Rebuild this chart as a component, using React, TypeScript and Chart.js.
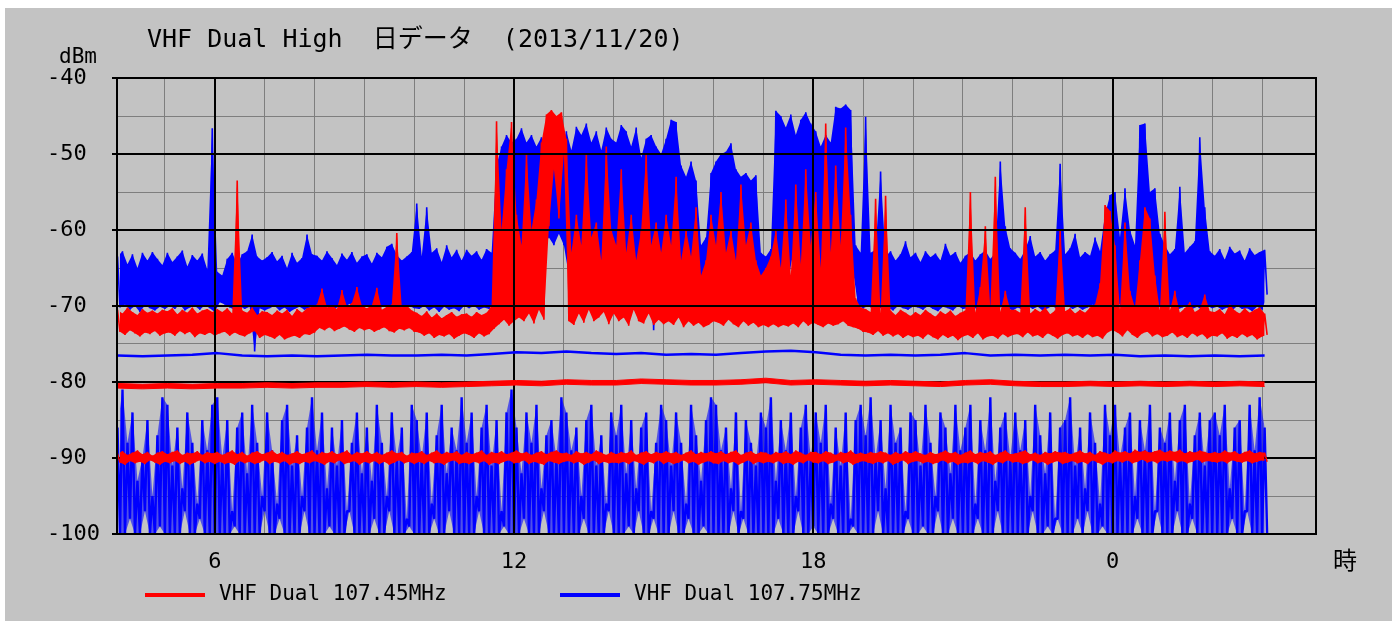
import React, { useEffect, useRef } from "react";
import { Chart, registerables } from "chart.js";

Chart.register(...registerables);

// ---- texts ----
const TITLE = "VHF Dual High  日データ  (2013/11/20)";
const Y_UNIT = "dBm";
const X_UNIT = "時";
const SERIES_LABELS = ["VHF Dual 107.45MHz", "VHF Dual 107.75MHz"];

// ---- axes ----
const X_MIN = 4.04;
const X_MAX = 28.08;
const Y_MIN = -100;
const Y_MAX = -40;
const Y_STEP = 5;
const HOUR_GRID = [5, 6, 7, 8, 9, 10, 11, 12, 13, 14, 15, 16, 17, 18, 19, 20, 21, 22, 23, 24, 25, 26, 27];
const HOUR_LABELS = [6, 12, 18, 24];
const DB_MAJOR = [-40, -50, -60, -70, -80, -90, -100];

// ---- sampling (hours) ----
const START_HOUR = 4.05;
const BIN_HOURS = 0.1;
const LINE_STEP_HOURS = 0.5;

// ---- 107.45MHz main trace: per 6-minute bin max / min (dBm) ----
const red10745Hi = [
  -70.5, -71.0, -70.2, -70.8, -71.2, -70.4, -70.9, -70.6, -71.0, -70.5,
  -70.7, -70.3, -71.1, -70.5, -70.9, -70.2, -71.0, -70.6, -70.4, -70.8,
  -70.4, -70.8, -70.3, -71.0, -53.5, -70.6, -70.9, -70.2, -71.2, -70.7,
  -70.8, -71.2, -70.6, -71.0, -70.5, -71.3, -70.4, -70.9, -70.3, -70.1,
  -69.8, -67.7, -70.2, -69.9, -70.4, -67.9, -70.1, -69.6, -67.5, -70.0,
  -70.3, -69.9, -67.6, -70.5, -70.1, -69.8, -60.4, -70.2, -69.9, -70.6,
  -70.9, -71.3, -70.7, -71.5, -71.0, -71.6, -71.2, -70.8, -71.4, -71.1,
  -71.0, -71.4, -70.8, -71.2, -70.9, -70.0, -45.7, -60.0, -52.0, -45.8,
  -58.0, -62.0, -50.0, -60.0, -56.0, -48.5, -44.8, -44.2, -45.0, -44.5,
  -48.0, -63.0, -58.0, -62.0, -50.0, -61.0, -59.0, -64.0, -49.0, -60.0,
  -62.0, -52.0, -63.0, -58.0, -64.0, -60.0, -50.0, -62.0, -59.0, -63.0,
  -58.0, -62.0, -53.0, -64.0, -60.0, -63.5, -57.0, -66.0, -64.0, -58.0,
  -62.0, -55.0, -63.0, -60.0, -64.0, -54.0, -62.0, -59.0, -64.0, -66.0,
  -65.0, -63.5, -60.0, -65.0, -56.0, -66.0, -54.0, -64.5, -52.0, -62.0,
  -55.0, -65.0, -46.0, -63.0, -51.5, -62.0, -46.5, -58.0, -69.0, -70.2,
  -70.4, -70.8, -55.9, -71.0, -55.5, -70.6, -71.2, -70.5, -70.9, -71.3,
  -70.8, -71.2, -70.5, -71.0, -71.4, -70.7, -71.1, -70.6, -71.3, -70.9,
  -70.6, -55.0, -70.9, -67.5, -59.5, -70.3, -53.0, -70.8, -68.0, -70.5,
  -70.5, -70.9, -57.0, -71.0, -70.4, -70.8, -70.2, -71.1, -70.6, -60.0,
  -70.7, -70.3, -71.0, -70.5, -70.9, -70.2, -69.8, -67.0, -56.7, -57.5,
  -62.0, -70.5, -59.0, -68.0, -70.2, -64.0, -57.0, -58.5, -66.0, -70.6,
  -57.6, -70.6, -68.0, -70.9, -70.3, -69.5, -70.8, -70.4, -68.5, -70.7,
  -70.8, -70.4, -71.1, -69.8, -70.6, -71.0, -70.3, -70.9, -70.5, -70.2,
  -71.0,
];
const red10745Lo = [
  -73.4, -73.8, -73.2, -73.6, -74.0, -73.5, -73.7, -73.3, -73.9, -73.6,
  -73.5, -73.9, -73.3, -73.7, -73.4, -74.1, -73.6, -73.8, -73.5, -73.9,
  -73.6, -73.4, -73.9, -73.5, -73.8, -74.0, -73.6, -73.3, -74.2, -73.8,
  -74.0, -74.3, -73.8, -74.4, -74.1, -73.9, -74.2, -73.7, -73.8, -73.5,
  -72.9, -73.2, -72.8, -73.3, -73.0, -72.7, -73.1, -73.4, -72.9, -73.2,
  -73.0, -73.4, -73.1, -72.8, -73.3, -73.5, -73.0, -73.2, -72.9, -73.4,
  -73.5, -73.9, -73.6, -74.2, -73.8, -74.0, -73.7, -74.3, -73.9, -73.6,
  -73.8, -74.2, -73.6, -74.0, -73.7, -73.0, -72.4, -71.8, -72.6, -72.0,
  -71.5, -72.0, -71.0, -72.3, -70.5, -71.8, -59.5, -52.0, -58.5, -50.0,
  -72.0, -72.5, -71.0, -72.2, -70.5, -72.0, -71.5, -70.8, -72.4, -71.0,
  -72.0, -71.5, -72.6, -70.5, -72.0, -72.3, -71.0, -72.5, -71.8, -72.4,
  -72.0, -72.5, -71.5, -72.8, -72.0, -72.6, -72.2, -72.8, -72.5, -72.0,
  -72.2, -72.6, -71.8, -72.4, -72.8, -72.0, -72.6, -72.2, -72.8, -72.5,
  -72.8, -72.4, -72.8, -72.5, -72.7, -72.3, -72.8, -72.0, -72.6, -72.2,
  -72.5, -72.8, -72.3, -72.6, -72.4, -72.0, -72.6, -72.8, -73.0, -73.4,
  -73.5, -73.8, -73.3, -73.9, -73.6, -74.0, -73.7, -74.2, -73.8, -74.1,
  -73.9, -74.3, -73.7, -74.1, -74.4, -73.8, -74.2, -73.9, -74.5, -74.0,
  -73.8, -74.2, -73.6, -74.4, -74.0, -73.9, -74.3, -73.7, -74.1, -73.8,
  -73.7, -74.1, -73.5, -74.0, -73.8, -74.2, -73.6, -73.9, -74.3, -73.8,
  -73.6, -74.0, -73.8, -74.2, -73.7, -74.1, -73.9, -74.3, -73.5, -73.2,
  -73.5, -74.0, -73.2, -73.8, -74.2, -73.6, -73.4, -74.0, -73.7, -74.1,
  -73.9, -73.5, -74.1, -73.8, -74.2, -73.6, -74.0, -73.7, -74.3, -73.9,
  -74.0, -73.6, -74.3, -73.9, -74.2, -73.7, -74.1, -73.8, -74.4, -74.0,
  -73.8,
];

// ---- 107.75MHz main trace: per 6-minute bin max / min (dBm) ----
const blue10775Hi = [
  -63.5, -62.8, -64.5, -63.2, -65.0, -63.0, -64.0, -62.9, -63.8, -64.6,
  -63.0, -64.2, -63.5, -62.7, -64.8, -63.3, -64.0, -63.1, -65.2, -46.6,
  -65.5, -66.0, -63.8, -63.0, -64.5, -63.2, -62.8, -60.6, -63.5, -64.0,
  -63.6, -62.9, -64.1, -63.4, -65.0, -63.0, -64.3, -63.7, -60.6, -63.2,
  -63.4, -64.0, -62.8, -63.7, -64.6, -63.1, -63.9, -62.9, -64.3, -63.5,
  -63.2, -64.4, -63.0, -63.6, -62.2, -61.8, -63.3, -64.0, -63.5, -62.9,
  -56.5, -63.5, -57.0, -63.0, -62.4, -64.2, -62.0, -63.6, -62.6, -64.0,
  -62.6, -63.4, -62.8, -63.9, -62.5, -63.0, -51.5, -49.0, -47.5, -48.5,
  -48.0, -46.6, -48.5, -47.5, -49.0, -47.8, -50.0, -49.5, -51.0, -50.0,
  -47.0, -49.5, -46.4, -47.5, -46.0, -48.5, -47.0, -49.5, -46.5, -48.0,
  -48.5, -46.2, -47.0, -49.0, -46.5, -50.5, -48.0, -47.5, -49.0, -50.0,
  -48.0, -45.5, -45.8, -51.5, -53.0, -51.0, -53.5, -62.0, -61.0, -52.5,
  -51.0, -50.0, -49.7, -48.6, -52.0, -53.0, -52.5, -53.5, -52.8, -63.0,
  -63.5, -62.5, -44.3, -45.0, -46.5, -44.8, -47.5, -45.5, -44.5, -46.0,
  -47.0, -49.0, -47.5, -48.5, -43.8, -44.0, -43.5, -44.2, -62.0, -63.0,
  -45.1, -63.0, -62.6, -52.3, -63.5, -62.8, -64.0, -63.2, -61.5, -63.6,
  -63.0, -64.2, -62.8, -63.6, -63.1, -64.0, -61.8, -63.4, -62.9, -64.3,
  -63.4, -62.9, -64.0, -63.2, -62.7, -63.8, -63.0, -51.0, -59.5, -62.4,
  -63.0, -63.8, -62.6, -60.8, -63.5, -62.9, -64.0, -63.2, -62.7, -51.3,
  -63.2, -62.4, -60.5, -63.6, -62.9, -63.4, -61.0, -62.8, -58.0, -55.4,
  -55.0, -61.0, -54.5, -60.0, -62.0, -46.2, -46.0, -55.0, -54.5, -60.5,
  -62.0, -63.2, -62.5, -54.3, -63.0, -62.2, -61.5, -47.8, -57.0, -62.8,
  -63.4, -62.5, -63.9, -62.2, -63.1, -62.7, -64.0, -62.4, -63.3, -62.9,
  -62.6,
];
const blue10775Lo = [
  -70.2, -69.8, -70.5, -70.0, -70.8, -69.9, -70.3, -70.6, -70.1, -70.4,
  -70.0, -70.4, -69.8, -70.6, -70.2, -70.0, -70.5, -69.9, -70.3, -70.8,
  -69.5, -69.8, -70.2, -70.5, -70.0, -70.4, -70.1, -76.0, -70.3, -70.6,
  -70.3, -70.0, -70.6, -70.2, -70.8, -70.4, -70.1, -70.5, -70.2, -70.0,
  -69.8, -70.2, -69.9, -70.4, -70.0, -70.3, -69.7, -70.1, -70.5, -70.0,
  -70.1, -69.8, -70.3, -70.0, -70.5, -70.2, -69.9, -70.4, -70.0, -70.3,
  -70.4, -70.0, -70.6, -70.2, -70.8, -70.1, -70.5, -70.3, -70.7, -70.0,
  -70.3, -70.0, -70.5, -70.2, -70.4, -69.5, -69.8, -68.0, -66.0, -67.0,
  -66.0, -64.0, -67.0, -63.0, -66.5, -62.0, -61.0, -62.0, -60.5, -62.0,
  -66.0, -69.0, -67.0, -65.5, -68.0, -64.0, -69.5, -66.0, -68.5, -67.0,
  -67.0, -68.0, -65.5, -69.0, -66.0, -68.5, -67.5, -73.2, -66.0, -68.0,
  -67.0, -68.5, -66.0, -69.0, -68.0, -67.5, -69.5, -70.0, -69.5, -68.0,
  -67.0, -68.5, -66.5, -68.0, -69.0, -67.5, -68.5, -67.0, -68.0, -70.0,
  -70.2, -69.8, -66.0, -64.0, -66.5, -63.0, -65.5, -64.0, -66.0, -65.0,
  -66.0, -64.5, -65.0, -66.5, -65.0, -64.0, -66.0, -65.5, -70.0, -70.3,
  -70.0, -70.4, -70.1, -70.5, -70.2, -70.6, -70.0, -70.3, -70.5, -70.1,
  -70.2, -70.5, -70.0, -70.4, -70.7, -70.1, -70.3, -70.6, -70.0, -70.4,
  -70.3, -70.0, -70.6, -70.2, -70.5, -70.1, -70.4, -70.0, -70.3, -70.6,
  -70.2, -70.5, -70.0, -70.4, -70.1, -70.6, -70.3, -70.0, -70.5, -70.2,
  -70.0, -70.4, -70.1, -70.5, -70.2, -69.8, -70.3, -70.0, -69.5, -68.0,
  -69.5, -70.2, -69.0, -70.4, -70.0, -68.5, -69.0, -70.3, -69.8, -70.5,
  -70.3, -70.0, -70.5, -70.2, -69.9, -70.4, -70.1, -70.6, -70.0, -70.3,
  -70.1, -70.5, -70.2, -70.6, -70.0, -70.4, -70.3, -70.7, -70.1, -70.5,
  -68.5,
];

// ---- 107.75MHz low trace (noise floor): per bin max / min ----
const blueFloorHi = [
  -86, -81, -88, -84, -93, -90, -85, -95, -87, -82,
  -83, -91, -86, -94, -84, -88, -96, -85, -89, -83,
  -82, -90, -85, -97, -86, -84, -92, -83, -88, -95,
  -84, -89, -96, -85, -83, -91, -87, -95, -86, -82,
  -89, -84, -94, -86, -91, -85, -97, -88, -84, -92,
  -86, -93, -83, -88, -95, -84, -90, -86, -98, -83,
  -85, -90, -84, -96, -87, -83, -92, -86, -89, -82,
  -88, -84, -95, -86, -83, -91, -85, -97, -84, -81,
  -86, -92, -84, -88, -83, -94, -87, -85, -90, -82,
  -84, -89, -86, -95, -85, -83, -91, -87, -96, -84,
  -87, -83, -92, -85, -94, -86, -84, -97, -88, -83,
  -85, -91, -84, -88, -96, -83, -87, -93, -85, -82,
  -83, -89, -86, -94, -84, -97, -85, -88, -91, -84,
  -86, -82, -93, -85, -89, -84, -95, -86, -83, -90,
  -84, -88, -83, -96, -86, -91, -84, -98, -85, -83,
  -87, -82, -90, -85, -94, -83, -88, -86, -97, -84,
  -85, -91, -83, -88, -95, -84, -86, -92, -83, -89,
  -86, -83, -96, -85, -89, -82, -93, -86, -84, -90,
  -84, -89, -85, -95, -83, -87, -92, -84, -98, -86,
  -85, -82, -91, -86, -94, -84, -88, -96, -83, -87,
  -83, -90, -86, -84, -95, -85, -89, -83, -97, -86,
  -88, -84, -93, -85, -83, -96, -87, -84, -91, -85,
  -84, -87, -83, -94, -86, -85, -97, -83, -89, -82,
  -86,
];
const blueFloorLo = [
  -100, -100, -98, -100, -100, -97, -100, -100, -99, -100,
  -100, -100, -100, -97, -100, -100, -98, -100, -100, -100,
  -100, -100, -100, -99, -100, -100, -100, -100, -100, -97,
  -100, -100, -98, -100, -100, -100, -100, -97, -100, -100,
  -100, -100, -99, -100, -100, -100, -97, -100, -100, -100,
  -100, -98, -100, -100, -97, -100, -100, -100, -99, -100,
  -100, -100, -100, -98, -100, -100, -97, -100, -100, -100,
  -100, -100, -97, -100, -100, -100, -100, -99, -100, -100,
  -100, -98, -100, -100, -100, -97, -100, -100, -100, -100,
  -100, -100, -100, -98, -100, -100, -100, -100, -97, -100,
  -100, -100, -99, -100, -97, -100, -100, -98, -100, -100,
  -100, -97, -100, -100, -98, -100, -100, -99, -100, -100,
  -100, -100, -100, -97, -100, -98, -100, -100, -100, -100,
  -100, -100, -98, -100, -100, -100, -97, -100, -100, -99,
  -100, -100, -100, -98, -100, -100, -100, -99, -100, -100,
  -100, -100, -97, -100, -100, -100, -100, -100, -98, -100,
  -100, -99, -100, -100, -97, -100, -100, -98, -100, -100,
  -100, -100, -98, -100, -100, -100, -97, -100, -100, -100,
  -100, -100, -100, -97, -100, -100, -99, -100, -98, -100,
  -100, -100, -98, -100, -97, -100, -100, -99, -100, -100,
  -100, -100, -100, -100, -98, -100, -100, -100, -97, -100,
  -100, -100, -97, -100, -100, -98, -100, -100, -100, -100,
  -100, -100, -100, -98, -100, -100, -97, -100, -100, -100,
  -100,
];

// ---- 107.45MHz low trace (~-90 dBm): per bin max / min ----
const red90Hi = [
  -89.4, -89.1, -89.6, -89.3, -89.0, -89.5, -89.2, -89.7, -89.3, -89.1,
  -89.5, -89.2, -89.0, -89.6, -89.3, -89.4, -89.1, -89.6, -89.2, -89.4,
  -89.2, -89.6, -89.3, -89.0, -89.5, -89.2, -89.7, -89.3, -89.1, -89.5,
  -89.3, -89.0, -89.5, -89.2, -89.6, -89.4, -89.1, -89.5, -89.3, -89.0,
  -89.6, -89.2, -89.4, -89.1, -89.5, -89.3, -89.0, -89.6, -89.2, -89.4,
  -89.1, -89.5, -89.2, -89.6, -89.3, -89.0, -89.4, -89.2, -89.7, -89.3,
  -89.4, -89.1, -89.6, -89.3, -89.0, -89.5, -89.2, -89.4, -89.1, -89.6,
  -89.2, -89.5, -89.3, -89.0, -89.6, -89.2, -89.4, -89.1, -89.5, -89.3,
  -89.0, -89.4, -89.2, -89.6, -89.3, -89.1, -89.5, -89.2, -89.0, -89.4,
  -89.3, -89.6, -89.1, -89.4, -89.2, -89.5, -89.0, -89.3, -89.6, -89.2,
  -89.5, -89.2, -89.4, -89.0, -89.6, -89.3, -89.1, -89.5, -89.2, -89.4,
  -89.1, -89.4, -89.2, -89.6, -89.3, -89.0, -89.5, -89.2, -89.4, -89.1,
  -89.4, -89.1, -89.5, -89.2, -89.0, -89.6, -89.3, -89.1, -89.5, -89.2,
  -89.3, -89.6, -89.2, -89.4, -89.1, -89.5, -89.0, -89.3, -89.6, -89.2,
  -89.2, -89.5, -89.1, -89.3, -89.6, -89.2, -89.4, -89.0, -89.5, -89.3,
  -89.5, -89.2, -89.4, -89.1, -89.3, -89.6, -89.2, -89.5, -89.1, -89.4,
  -89.1, -89.4, -89.6, -89.2, -89.5, -89.3, -89.0, -89.4, -89.2, -89.6,
  -89.3, -89.0, -89.5, -89.2, -89.4, -89.1, -89.6, -89.3, -89.0, -89.5,
  -89.4, -89.2, -89.0, -89.5, -89.3, -89.6, -89.2, -89.4, -89.1, -89.3,
  -89.2, -89.5, -89.3, -89.0, -89.4, -89.2, -89.6, -89.1, -89.3, -89.5,
  -89.0, -89.3, -89.1, -89.4, -88.9, -89.2, -89.0, -89.3, -89.1, -88.9,
  -89.3, -89.0, -89.2, -88.9, -89.4, -89.1, -89.3, -89.0, -89.2, -89.4,
  -89.2, -89.4, -89.0, -89.3, -89.1, -89.5, -89.2, -89.0, -89.4, -89.2,
  -89.3,
];
const red90Lo = [
  -90.6, -90.9, -90.4, -90.7, -90.5, -90.8, -90.3, -90.6, -90.9, -90.5,
  -90.7, -90.4, -90.8, -90.5, -90.9, -90.6, -90.3, -90.7, -90.5, -90.8,
  -90.5, -90.8, -90.6, -90.9, -90.4, -90.7, -90.5, -90.8, -90.6, -90.3,
  -90.8, -90.5, -90.7, -90.4, -90.9, -90.6, -90.8, -90.5, -90.7, -90.4,
  -90.6, -90.9, -90.5, -90.7, -90.3, -90.8, -90.6, -90.4, -90.9, -90.5,
  -90.7, -90.4, -90.8, -90.5, -90.9, -90.6, -90.3, -90.7, -90.5, -90.8,
  -90.5, -90.8, -90.4, -90.7, -90.6, -90.9, -90.5, -90.3, -90.8, -90.6,
  -90.8, -90.5, -90.7, -90.4, -90.9, -90.6, -90.8, -90.5, -90.3, -90.7,
  -90.6, -90.3, -90.8, -90.5, -90.7, -90.9, -90.4, -90.6, -90.8, -90.5,
  -90.4, -90.7, -90.5, -90.9, -90.6, -90.3, -90.8, -90.5, -90.7, -90.6,
  -90.7, -90.5, -90.8, -90.4, -90.6, -90.9, -90.5, -90.7, -90.3, -90.8,
  -90.5, -90.8, -90.6, -90.3, -90.7, -90.5, -90.9, -90.6, -90.4, -90.7,
  -90.8, -90.4, -90.7, -90.5, -90.9, -90.6, -90.3, -90.8, -90.5, -90.7,
  -90.5, -90.7, -90.4, -90.8, -90.6, -90.9, -90.5, -90.7, -90.3, -90.6,
  -90.7, -90.4, -90.8, -90.6, -90.3, -90.7, -90.5, -90.9, -90.6, -90.4,
  -90.6, -90.8, -90.5, -90.7, -90.4, -90.9, -90.6, -90.3, -90.8, -90.5,
  -90.4, -90.7, -90.5, -90.8, -90.6, -90.3, -90.7, -90.5, -90.9, -90.6,
  -90.7, -90.5, -90.8, -90.4, -90.6, -90.9, -90.5, -90.7, -90.3, -90.6,
  -90.5, -90.8, -90.6, -90.3, -90.7, -90.5, -90.9, -90.6, -90.4, -90.8,
  -90.6, -90.4, -90.7, -90.5, -90.8, -90.3, -90.6, -90.9, -90.5, -90.7,
  -90.4, -90.6, -90.3, -90.7, -90.5, -90.2, -90.6, -90.4, -90.7, -90.3,
  -90.5, -90.3, -90.6, -90.4, -90.7, -90.5, -90.2, -90.6, -90.4, -90.5,
  -90.6, -90.4, -90.7, -90.3, -90.5, -90.6, -90.4, -90.7, -90.5, -90.3,
  -90.5,
];

// ---- steady traces: one value per 30 minutes ----
const blue76 = [
  -76.5, -76.6, -76.5, -76.4, -76.2, -76.5, -76.6, -76.5, -76.6, -76.5,
  -76.4, -76.5, -76.5, -76.4, -76.5, -76.3, -76.1, -76.2, -76.0, -76.2,
  -76.3, -76.2, -76.4, -76.3, -76.4, -76.2, -76.0, -75.9, -76.1, -76.4,
  -76.5, -76.4, -76.5, -76.4, -76.2, -76.5, -76.4, -76.5, -76.4, -76.5,
  -76.4, -76.6, -76.5, -76.6, -76.5, -76.6, -76.5,
];
const red80Upper = [
  -80.2, -80.3, -80.2, -80.3, -80.2, -80.2, -80.1, -80.2, -80.1, -80.1,
  -80.0, -80.1, -80.0, -80.1, -80.0, -79.9, -79.8, -79.9, -79.7, -79.8,
  -79.8, -79.6, -79.7, -79.8, -79.8, -79.7, -79.5, -79.8, -79.7, -79.8,
  -79.9, -79.8, -79.9, -80.0, -79.8, -79.7, -79.9, -80.0, -80.0, -79.9,
  -80.0, -79.9, -80.0, -79.9, -80.0, -79.9, -80.0,
];
const red80Lower = [
  -80.8, -80.9, -80.8, -80.9, -80.8, -80.8, -80.7, -80.8, -80.7, -80.7,
  -80.6, -80.7, -80.6, -80.7, -80.6, -80.5, -80.4, -80.5, -80.3, -80.4,
  -80.4, -80.2, -80.3, -80.4, -80.4, -80.3, -80.1, -80.4, -80.3, -80.4,
  -80.5, -80.4, -80.5, -80.6, -80.4, -80.3, -80.5, -80.6, -80.6, -80.5,
  -80.6, -80.5, -80.6, -80.5, -80.6, -80.5, -80.6,
];

// ---- styles ----
const RED = "#ff0000";
const BLUE = "#0000ff";
const BLUE_HAZE = "rgba(10,10,255,0.62)";
const NONE = "rgba(0,0,0,0)";
const PANEL_BG = "#c3c3c3";
const GRID_MINOR = "#7e7e7e";
const MONO = '"DejaVu Sans Mono", monospace';
const MIXED = '"DejaVu Sans Mono", "Noto Sans CJK JP", monospace';

function zigzag(hi: number[], lo: number[]) {
  const pts: { x: number; y: number }[] = [];
  hi.forEach((h, i) => {
    const t = START_HOUR + i * BIN_HOURS;
    pts.push({ x: t, y: h });
    pts.push({ x: t + BIN_HOURS / 2, y: lo[i] });
  });
  return pts;
}
const envHi = (hi: number[]) => hi.map((v, i) => ({ x: START_HOUR + i * BIN_HOURS, y: v }));
const envLo = (lo: number[]) => lo.map((v, i) => ({ x: START_HOUR + i * BIN_HOURS + BIN_HOURS / 2, y: v }));
const steady = (vals: number[]) => vals.map((v, i) => ({ x: START_HOUR + i * LINE_STEP_HOURS, y: v }));

function lineDs(label: string, data: any[], color: string, width: number, fill: any = false, fillColor?: string) {
  return {
    label,
    data,
    borderColor: color,
    backgroundColor: fillColor || color,
    borderWidth: width,
    pointRadius: 0,
    borderJoinStyle: "bevel" as const,
    tension: 0,
    fill,
  };
}

// dataset order: lower index is painted later (on top)
function buildDatasets() {
  return [
    lineDs("107.45 ref a", steady(red80Upper), RED, 1, "+1"),
    lineDs("107.45 ref b", steady(red80Lower), RED, 1),
    lineDs("107.75 ref", steady(blue76), BLUE, 2.5),
    lineDs("107.45 low", zigzag(red90Hi, red90Lo), RED, 1.5),
    lineDs("107.45 low max", envHi(red90Hi), NONE, 0, "+1", RED),
    lineDs("107.45 low min", envLo(red90Lo), NONE, 0),
    lineDs(SERIES_LABELS[0], zigzag(red10745Hi, red10745Lo), RED, 1.6),
    lineDs("107.45 max", envHi(red10745Hi), NONE, 0, "+1", RED),
    lineDs("107.45 min", envLo(red10745Lo), NONE, 0),
    lineDs(SERIES_LABELS[1], zigzag(blue10775Hi, blue10775Lo), BLUE, 1.6),
    lineDs("107.75 max", envHi(blue10775Hi), NONE, 0, "+1", BLUE),
    lineDs("107.75 min", envLo(blue10775Lo), NONE, 0),
    lineDs("107.75 floor", zigzag(blueFloorHi, blueFloorLo), BLUE, 2.4),
    lineDs("107.75 floor max", envHi(blueFloorHi), NONE, 0, "+1", BLUE_HAZE),
    lineDs("107.75 floor min", envLo(blueFloorLo), NONE, 0),
  ];
}
// black major grid is repainted right after this dataset (the 107.45MHz main trace)
const MAIN_TOP_INDEX = 6;

const overlayPlugin = {
  id: "overlay",
  afterDatasetDraw(chart: any, args: any) {
    if (args.index !== MAIN_TOP_INDEX) return;
    const { ctx, chartArea: a, scales } = chart;
    ctx.save();
    ctx.strokeStyle = "#000";
    ctx.lineWidth = 2;
    ctx.beginPath();
    DB_MAJOR.forEach((v) => {
      const y = Math.round(scales.y.getPixelForValue(v));
      ctx.moveTo(a.left, y);
      ctx.lineTo(a.right, y);
    });
    HOUR_LABELS.forEach((h) => {
      const x = Math.round(scales.x.getPixelForValue(h));
      ctx.moveTo(x, a.top);
      ctx.lineTo(x, a.bottom);
    });
    ctx.stroke();
    ctx.restore();
  },
  afterDatasetsDraw(chart: any) {
    const { ctx, chartArea: a } = chart;
    ctx.save();
    ctx.strokeStyle = "#000";
    ctx.lineWidth = 2;
    ctx.strokeRect(Math.round(a.left), Math.round(a.top), Math.round(a.right - a.left), Math.round(a.bottom - a.top));
    ctx.restore();
  },
  afterDraw(chart: any) {
    const { ctx, chartArea: a } = chart;
    ctx.save();
    ctx.fillStyle = "#000";
    ctx.textBaseline = "middle";
    ctx.textAlign = "left";
    ctx.font = `25px ${MIXED}`;
    ctx.fillText(TITLE, a.left + 30, 32);
    ctx.textAlign = "center";
    ctx.font = `21px ${MONO}`;
    ctx.fillText(Y_UNIT, 73, 50);
    ctx.font = `24px "Noto Sans CJK JP", sans-serif`;
    ctx.fillText(X_UNIT, a.right + 29, 552);
    const colors = [RED, BLUE];
    const starts = [140, 555];
    ctx.textAlign = "left";
    ctx.font = `21px ${MONO}`;
    SERIES_LABELS.forEach((lab, i) => {
      const x0 = starts[i];
      const y = 587;
      ctx.strokeStyle = colors[i];
      ctx.lineWidth = 4;
      ctx.beginPath();
      ctx.moveTo(x0, y);
      ctx.lineTo(x0 + 60, y);
      ctx.stroke();
      ctx.fillStyle = "#000";
      ctx.fillText(lab, x0 + 74, y);
    });
    ctx.restore();
  },
};

export default function App() {
  const ref = useRef<HTMLCanvasElement>(null);

  useEffect(() => {
    const canvas = ref.current;
    if (!canvas) return;
    const chart = new Chart(canvas, {
      type: "line",
      data: { datasets: buildDatasets() },
      options: {
        responsive: false,
        maintainAspectRatio: false,
        animation: false,
        devicePixelRatio: 1,
        events: [],
        layout: { padding: { left: 42, top: 70, right: 76, bottom: 0 } },
        plugins: {
          legend: { display: false },
          title: { display: false },
          tooltip: { enabled: false },
        },
        scales: {
          x: {
            type: "linear",
            min: X_MIN,
            max: X_MAX,
            afterBuildTicks: (s: any) => {
              s.ticks = HOUR_GRID.map((v) => ({ value: v }));
            },
            afterFit: (s: any) => {
              s.height = 87;
            },
            border: { display: false },
            grid: {
              drawTicks: false,
              color: (c: any) => (c.tick && c.tick.value % 6 === 0 ? "#000" : GRID_MINOR),
              lineWidth: (c: any) => (c.tick && c.tick.value % 6 === 0 ? 2 : 1),
            },
            ticks: {
              autoSkip: false,
              maxRotation: 0,
              padding: 15,
              color: "#000",
              font: { family: MONO, size: 22 },
              callback: (v: any) => (HOUR_LABELS.includes(Number(v)) ? String(Number(v) % 24) : ""),
            },
          },
          y: {
            type: "linear",
            min: Y_MIN,
            max: Y_MAX,
            afterFit: (s: any) => {
              s.width = 70;
            },
            border: { display: false },
            grid: {
              drawTicks: true,
              tickLength: 5,
              tickWidth: 2,
              tickColor: (c: any) => (c.tick && c.tick.value % 10 === 0 ? "#000" : NONE),
              color: (c: any) => (c.tick && c.tick.value % 10 === 0 ? "#000" : GRID_MINOR),
              lineWidth: (c: any) => (c.tick && c.tick.value % 10 === 0 ? 2 : 1),
            },
            ticks: {
              stepSize: Y_STEP,
              crossAlign: "far",
              color: "#000",
              font: { family: MONO, size: 22 },
              callback: (v: any) => (Number(v) % 10 === 0 ? String(v) : ""),
            },
          },
        },
      },
      plugins: [overlayPlugin],
    } as any);
    return () => chart.destroy();
  }, []);

  return (
    <div
      style={{
        position: "fixed",
        left: 5,
        top: 8,
        width: 1387,
        height: 613,
        background: PANEL_BG,
      }}
    >
      <canvas ref={ref} width={1387} height={613} style={{ display: "block" }} />
    </div>
  );
}
